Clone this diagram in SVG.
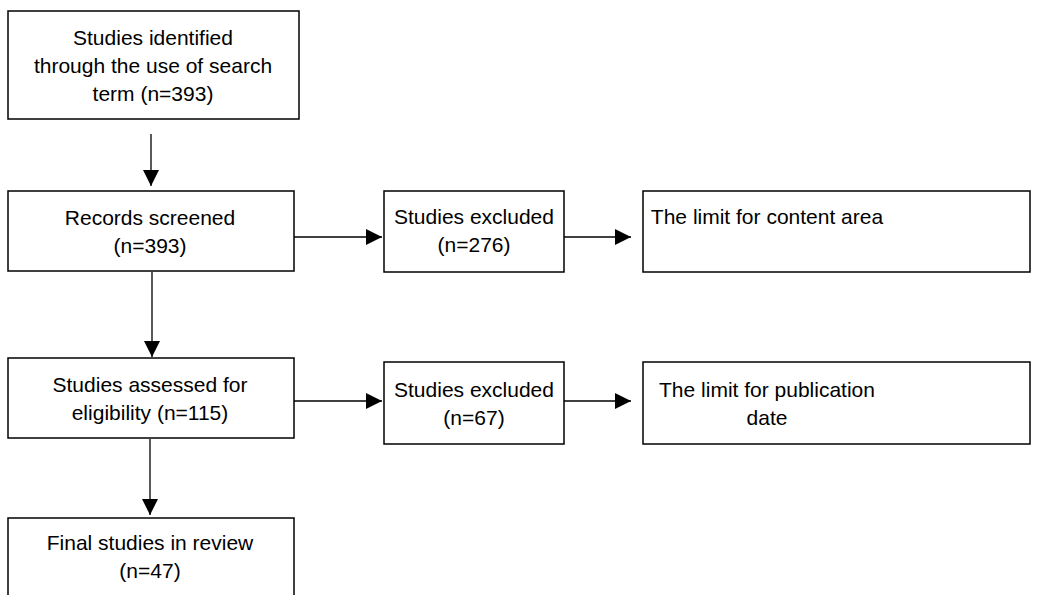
<svg xmlns="http://www.w3.org/2000/svg" width="1039" height="595" viewBox="0 0 1039 595">
<style>
.box{fill:#fff;stroke:#000;stroke-width:1.5}
.t{font-family:"Liberation Sans",Arial,sans-serif;font-size:21px;fill:#000;text-anchor:middle}
.c{stroke:#000;stroke-width:1.3;fill:none}
</style>
<defs>
<marker id="ah" markerWidth="16" markerHeight="16" viewBox="0 0 16 16" refX="16" refY="8" orient="auto" markerUnits="userSpaceOnUse">
<path d="M0,0 L16,8 L0,16 Z" fill="#000"/>
</marker>
</defs>
<rect width="1039" height="595" fill="#fff"/>
<g id="connectors">
<line class="c" x1="151" y1="134" x2="151" y2="186" marker-end="url(#ah)"/>
<line class="c" x1="294" y1="237" x2="382" y2="237" marker-end="url(#ah)"/>
<line class="c" x1="564" y1="237" x2="631" y2="237" marker-end="url(#ah)"/>
<line class="c" x1="152" y1="272" x2="152" y2="357" marker-end="url(#ah)"/>
<line class="c" x1="294" y1="401" x2="382" y2="401" marker-end="url(#ah)"/>
<line class="c" x1="564" y1="401" x2="631" y2="401" marker-end="url(#ah)"/>
<line class="c" x1="150" y1="439" x2="150" y2="515" marker-end="url(#ah)"/>
</g>
<g id="n1"><rect class="box" x="8" y="11" width="291" height="108"/>
<text class="t" x="153" y="45">Studies identified</text>
<text class="t" x="153" y="73">through the use of search</text>
<text class="t" x="153" y="101">term (n=393)</text></g>
<g id="n2"><rect class="box" x="8" y="191" width="286" height="80"/>
<text class="t" x="150" y="225">Records screened</text>
<text class="t" x="150" y="253">(n=393)</text></g>
<g id="n3"><rect class="box" x="384" y="191" width="180" height="81"/>
<text class="t" x="474" y="224">Studies excluded</text>
<text class="t" x="474" y="252">(n=276)</text></g>
<g id="n4"><rect class="box" x="643" y="191" width="387" height="81"/>
<text class="t" x="767" y="224">The limit for content area</text></g>
<g id="n5"><rect class="box" x="8" y="358" width="286" height="80"/>
<text class="t" x="150" y="392">Studies assessed for</text>
<text class="t" x="150" y="420">eligibility (n=115)</text></g>
<g id="n6"><rect class="box" x="384" y="362" width="180" height="82"/>
<text class="t" x="474" y="397">Studies excluded</text>
<text class="t" x="474" y="425">(n=67)</text></g>
<g id="n7"><rect class="box" x="643" y="362" width="387" height="82"/>
<text class="t" x="767" y="397">The limit for publication</text>
<text class="t" x="767" y="425">date</text></g>
<g id="n8"><rect class="box" x="8" y="518" width="286" height="90"/>
<text class="t" x="150" y="550">Final studies in review</text>
<text class="t" x="150" y="578">(n=47)</text></g>
</svg>
